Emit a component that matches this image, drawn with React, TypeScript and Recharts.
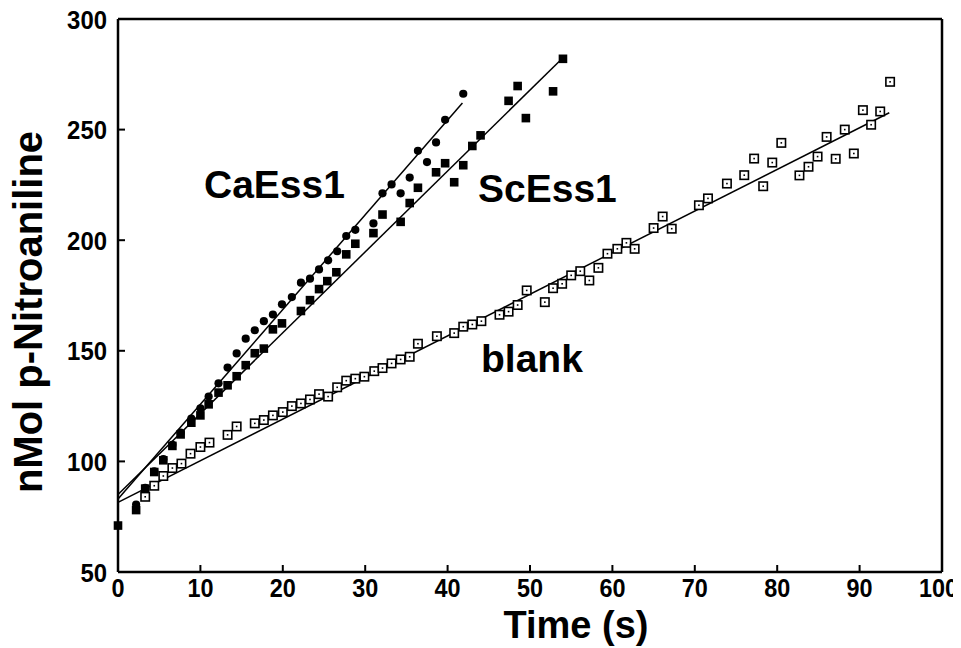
import React from 'react';
import { ComposedChart, Scatter, Line, XAxis, YAxis } from 'recharts';

const xTicks = [0, 10, 20, 30, 40, 50, 60, 70, 80, 90, 100];
const yTicks = [50, 100, 150, 200, 250, 300];

const caEssPoints: [number, number][] = [
  [2.2, 80.5], [3.3, 88], [4.4, 95.5], [5.5, 101], [6.6, 107.5], [7.6, 113],
  [8.9, 119.3], [10, 124], [11, 129.3], [12.2, 135.3], [13.3, 142.4], [14.4, 148.8],
  [15.5, 155.5], [16.6, 159.3], [17.7, 163.4], [18.8, 166.4], [19.9, 171], [21.1, 174.3],
  [22.2, 180.8], [23.3, 182.6], [24.4, 186.8], [25.5, 190.9], [26.6, 195], [27.7, 201.9],
  [28.8, 204.7], [31, 207.6], [32.1, 221.2], [33.2, 225.2], [34.3, 221.2], [35.4, 228.3],
  [36.4, 240.4], [37.5, 235.3], [38.6, 244.2], [39.7, 254.4], [41.9, 266.2],
];

const scEssPoints: [number, number][] = [
  [0, 71], [2.2, 78], [3.3, 87.7], [4.4, 95.2], [5.5, 100.5], [6.6, 107], [7.6, 112.2],
  [8.9, 117.5], [10, 120.8], [11, 125.8], [12.2, 131.1], [13.3, 134.4], [14.4, 138.5],
  [15.5, 143.5], [16.6, 148.9], [17.7, 151], [18.8, 159.7], [19.9, 162.4], [22.2, 168],
  [23.3, 172.9], [24.4, 177.9], [25.4, 181.5], [26.5, 185.5], [27.7, 193.6], [28.8, 198.4],
  [31, 203.2], [32.1, 211.6], [34.3, 208.3], [35.4, 216.8], [36.4, 223.7], [38.6, 230.7],
  [39.7, 234.8], [40.8, 226.2], [41.9, 233.9], [43, 242.6], [44, 247.4], [47.4, 263],
  [48.5, 269.7], [49.5, 255.2], [52.8, 267.3], [54, 282],
];

const blankPoints: [number, number][] = [
  [3.3, 84], [4.4, 89], [5.5, 93.4], [6.6, 97], [7.7, 99], [8.8, 103.5], [10, 106.5],
  [11.1, 108.5], [13.3, 112], [14.4, 115.8], [16.6, 117.2], [17.7, 118.7], [18.8, 120.8],
  [20, 122.3], [21.1, 125], [22.2, 126.2], [23.3, 128], [24.4, 130.4], [25.5, 129.3],
  [26.6, 133.5], [27.7, 136.5], [28.8, 137.4], [29.9, 138.3], [31.1, 140.8], [32.1, 142.2],
  [33.2, 144.3], [34.3, 146.1], [35.4, 147.3], [36.4, 153.2], [38.7, 156.6], [40.8, 158],
  [41.9, 160.9], [43, 161.9], [44.1, 163.4], [46.3, 166.3], [47.4, 167.7], [48.5, 170.7],
  [49.6, 177.3], [51.8, 172], [52.8, 178.3], [53.9, 180.3], [55, 184.1], [56.1, 186],
  [57.2, 181.8], [58.3, 187.5], [59.4, 193.9], [60.6, 196.1], [61.7, 198.8], [62.7, 196.1],
  [65, 205.5], [66.1, 210.7], [67.2, 205.2], [70.5, 215.8], [71.6, 218.9], [73.9, 225.6],
  [76, 229.4], [77.2, 236.9], [78.3, 224.4], [79.4, 235.1], [80.5, 244], [82.7, 229.3],
  [83.8, 233.2], [84.9, 237.8], [86, 246.7], [87.1, 236.8], [88.2, 250], [89.3, 239.2],
  [90.4, 258.8], [91.4, 252.2], [92.5, 258.2], [93.7, 271.6],
];

const caEssFit: [number, number][] = [[0, 83], [41.8, 262]];
const scEssFit: [number, number][] = [[0, 85], [54, 282.5]];
const blankFit: [number, number][] = [[0, 81.5], [93.6, 257.6]];

const toRows = (pts: [number, number][]) => pts.map(([x, y]) => ({ x, y }));

const FONT = '"Liberation Sans", Arial, Helvetica, sans-serif';
const TICK_LEN = 7;
const TICK_FS = 26;
const X_SCALE = 0.9;
const W = 953;
const H = 640;

const BottomTick = (props: any) => {
  const { x, y, payload } = props;
  const half = (String(payload.value).length * 0.556 * TICK_FS * X_SCALE) / 2;
  const limit = W - 3;
  const shift = x + half > limit ? limit - (x + half) : 0;
  return (
    <g>
      <line x1={x} y1={y} x2={x} y2={y - TICK_LEN} stroke="#000" strokeWidth={2} />
      <text
        transform={`translate(${x + shift},${y + 25}) scale(${X_SCALE},1)`}
        x={0}
        y={0}
        textAnchor="middle"
        fontFamily={FONT}
        fontWeight="bold"
        fontSize={TICK_FS}
        fill="#000"
      >
        {payload.value}
      </text>
    </g>
  );
};

const TopTick = (props: any) => {
  const { x, y } = props;
  return <line x1={x} y1={y} x2={x} y2={y + TICK_LEN} stroke="#000" strokeWidth={2} />;
};

const LeftTick = (props: any) => {
  const { x, y, payload } = props;
  return (
    <g>
      <line x1={x} y1={y} x2={x + TICK_LEN} y2={y} stroke="#000" strokeWidth={2} />
      <text
        transform={`translate(${x - 11},${y + 9.5}) scale(0.92,1)`}
        x={0}
        y={0}
        textAnchor="end"
        fontFamily={FONT}
        fontWeight="bold"
        fontSize={TICK_FS}
        fill="#000"
      >
        {payload.value}
      </text>
    </g>
  );
};

const RightTick = (props: any) => {
  const { x, y } = props;
  return <line x1={x} y1={y} x2={x - TICK_LEN} y2={y} stroke="#000" strokeWidth={2} />;
};

const OpenSquare = (props: any) => {
  const { cx, cy } = props;
  if (cx == null || cy == null) return null;
  return (
    <g>
      <rect x={cx - 4.2} y={cy - 4.2} width={8.4} height={8.4} fill="#fff" stroke="#000" strokeWidth={1.6} />
      <rect x={cx - 0.8} y={cy - 0.8} width={1.6} height={1.6} fill="#000" />
    </g>
  );
};

const FilledSquare = (props: any) => {
  const { cx, cy } = props;
  if (cx == null || cy == null) return null;
  return <rect x={cx - 4.3} y={cy - 4.3} width={8.6} height={8.6} fill="#000" />;
};

const FilledCircle = (props: any) => {
  const { cx, cy } = props;
  if (cx == null || cy == null) return null;
  return <circle cx={cx} cy={cy} r={4.1} fill="#000" />;
};

export default function App() {
  return (
    <div style={{ position: 'relative', width: W, height: H }}>
      <style>{'.recharts-surface{overflow:visible}'}</style>
      <ComposedChart width={W} height={H} margin={{ top: 10, right: 18, bottom: 36, left: 70 }}>
        <XAxis
          xAxisId="b"
          dataKey="x"
          type="number"
          domain={[0, 100]}
          ticks={xTicks}
          height={40}
          tickSize={0}
          tickMargin={0}
          tickLine={false}
          axisLine={{ stroke: '#000', strokeWidth: 2.5 }}
          tick={<BottomTick />}
          interval={0}
        />
        <XAxis
          xAxisId="t"
          orientation="top"
          dataKey="x"
          type="number"
          domain={[0, 100]}
          ticks={xTicks}
          height={1}
          tickSize={0}
          tickMargin={0}
          tickLine={false}
          axisLine={{ stroke: '#000', strokeWidth: 2.5 }}
          tick={<TopTick />}
          interval={0}
        />
        <YAxis
          yAxisId="l"
          dataKey="y"
          type="number"
          domain={[50, 300]}
          ticks={yTicks}
          width={40}
          tickSize={0}
          tickMargin={0}
          tickLine={false}
          axisLine={{ stroke: '#000', strokeWidth: 2.5 }}
          tick={<LeftTick />}
          interval={0}
        />
        <YAxis
          yAxisId="r"
          orientation="right"
          dataKey="y"
          type="number"
          domain={[50, 300]}
          ticks={yTicks}
          width={1}
          tickSize={0}
          tickMargin={0}
          tickLine={false}
          axisLine={{ stroke: '#000', strokeWidth: 2.5 }}
          tick={<RightTick />}
          interval={0}
        />
        <Scatter xAxisId="b" yAxisId="l" name="blank" data={toRows(blankPoints)} shape={<OpenSquare />} isAnimationActive={false} />
        <Scatter xAxisId="b" yAxisId="l" name="ScEss1" data={toRows(scEssPoints)} shape={<FilledSquare />} isAnimationActive={false} />
        <Scatter xAxisId="b" yAxisId="l" name="CaEss1" data={toRows(caEssPoints)} shape={<FilledCircle />} isAnimationActive={false} />
        <Line xAxisId="b" yAxisId="l" data={toRows(blankFit)} dataKey="y" type="linear" stroke="#000" strokeWidth={1.5} dot={false} activeDot={false} isAnimationActive={false} />
        <Line xAxisId="b" yAxisId="l" data={toRows(scEssFit)} dataKey="y" type="linear" stroke="#000" strokeWidth={1.5} dot={false} activeDot={false} isAnimationActive={false} />
        <Line xAxisId="b" yAxisId="l" data={toRows(caEssFit)} dataKey="y" type="linear" stroke="#000" strokeWidth={1.5} dot={false} activeDot={false} isAnimationActive={false} />
      </ComposedChart>
      <svg width={W} height={H} style={{ position: 'absolute', left: 0, top: 0, pointerEvents: 'none', overflow: 'visible' }}>
        <g fontFamily={FONT} fontWeight="bold" fill="#000">
          <text x={196} y={190} fontSize={39}>CaEss1</text>
          <text x={470} y={194} fontSize={39}>ScEss1</text>
          <text x={473} y={364} fontSize={39}>blank</text>
          <text x={568} y={630} fontSize={38} textAnchor="middle">Time (s)</text>
          <text x={34} y={304} fontSize={40} textAnchor="middle" transform="rotate(-90, 34, 304)">nMol p-Nitroaniline</text>
        </g>
      </svg>
    </div>
  );
}
